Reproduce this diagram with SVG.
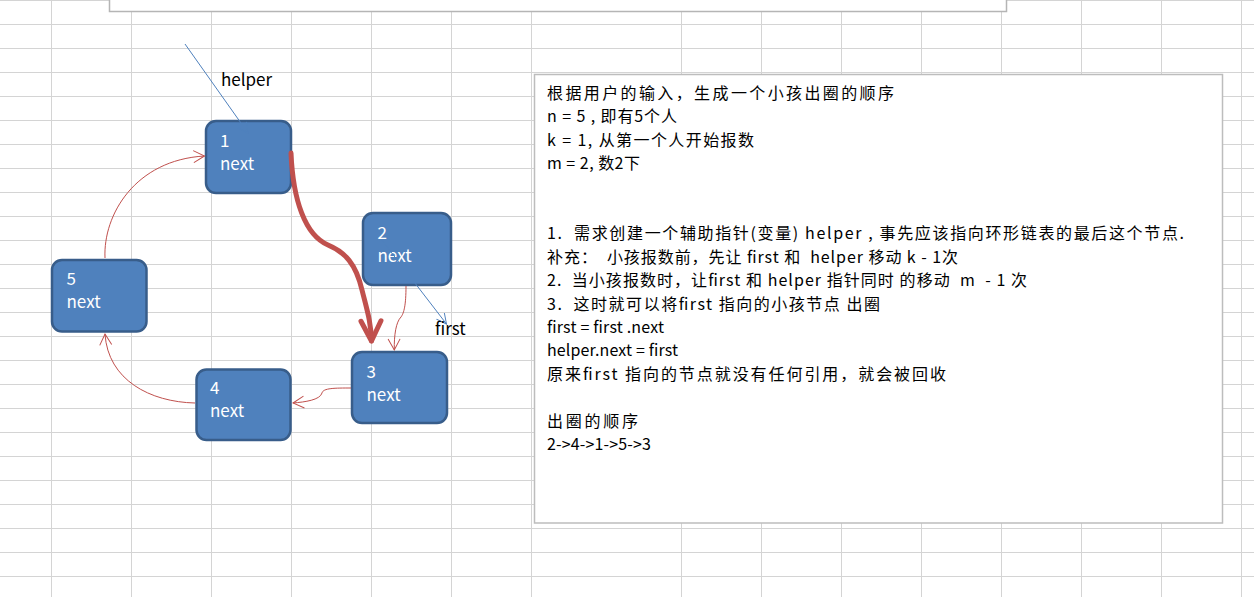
<svg xmlns="http://www.w3.org/2000/svg" width="1254" height="597" viewBox="0 0 1254 597">
  <style>
    .grid line { stroke: #d4d4d4; stroke-width: 1; }
    .node rect { fill: #4f81bd; stroke: #385d8a; stroke-width: 2.5; }
    .node text { fill: #ffffff; font-family: "Noto Sans CJK SC", "Noto Sans", sans-serif; font-size: 17px; }
    .lbl { fill: #000000; font-family: "Noto Sans CJK SC", "Noto Sans", sans-serif; font-size: 17px; }
    .note text { fill: #000000; font-family: "Noto Sans CJK SC", sans-serif; font-size: 16px; white-space: pre; }
    .thin { fill: none; stroke: #c0504d; stroke-width: 1; }
    .ptr { fill: none; stroke: #4f81bd; stroke-width: 1; }
    .thick { fill: none; stroke: #c0504d; stroke-width: 5; stroke-linecap: round; }
  </style>
  <defs>
    <marker id="redHead" markerUnits="userSpaceOnUse" viewBox="0 0 14 14" markerWidth="14" markerHeight="14" refX="12" refY="7" orient="auto" overflow="visible">
      <path d="M1,1 L12,7 L1,13" fill="none" stroke="#c0504d" stroke-width="1"/>
    </marker>
    <marker id="blueHead" markerUnits="userSpaceOnUse" viewBox="0 0 14 14" markerWidth="14" markerHeight="14" refX="12" refY="7" orient="auto" overflow="visible">
      <path d="M2,2 L12,7 L2,12" fill="none" stroke="#4f81bd" stroke-width="1"/>
    </marker>
    <marker id="thickHead" markerUnits="userSpaceOnUse" viewBox="0 0 30 30" markerWidth="30" markerHeight="30" refX="23" refY="15" orient="auto" overflow="visible">
      <path d="M3,5 L23,15 L3,25" fill="none" stroke="#c0504d" stroke-width="5" stroke-linecap="round" stroke-linejoin="round"/>
    </marker>
  </defs>

  <rect x="0" y="0" width="1254" height="597" fill="#ffffff"/>

  <g class="grid">
    <line x1="0" y1="0.5" x2="1254" y2="0.5"/>
    <line x1="0" y1="24.5" x2="1254" y2="24.5"/>
    <line x1="0" y1="48.5" x2="1254" y2="48.5"/>
    <line x1="0" y1="72.5" x2="1254" y2="72.5"/>
    <line x1="0" y1="96.5" x2="1254" y2="96.5"/>
    <line x1="0" y1="120.5" x2="1254" y2="120.5"/>
    <line x1="0" y1="144.5" x2="1254" y2="144.5"/>
    <line x1="0" y1="168.5" x2="1254" y2="168.5"/>
    <line x1="0" y1="192.5" x2="1254" y2="192.5"/>
    <line x1="0" y1="216.5" x2="1254" y2="216.5"/>
    <line x1="0" y1="240.5" x2="1254" y2="240.5"/>
    <line x1="0" y1="264.5" x2="1254" y2="264.5"/>
    <line x1="0" y1="288.5" x2="1254" y2="288.5"/>
    <line x1="0" y1="312.5" x2="1254" y2="312.5"/>
    <line x1="0" y1="336.5" x2="1254" y2="336.5"/>
    <line x1="0" y1="360.5" x2="1254" y2="360.5"/>
    <line x1="0" y1="384.5" x2="1254" y2="384.5"/>
    <line x1="0" y1="408.5" x2="1254" y2="408.5"/>
    <line x1="0" y1="432.5" x2="1254" y2="432.5"/>
    <line x1="0" y1="456.5" x2="1254" y2="456.5"/>
    <line x1="0" y1="480.5" x2="1254" y2="480.5"/>
    <line x1="0" y1="504.5" x2="1254" y2="504.5"/>
    <line x1="0" y1="528.5" x2="1254" y2="528.5"/>
    <line x1="0" y1="552.5" x2="1254" y2="552.5"/>
    <line x1="0" y1="576.5" x2="1254" y2="576.5"/>
    <line x1="51.5" y1="0" x2="51.5" y2="597"/>
    <line x1="131.5" y1="0" x2="131.5" y2="597"/>
    <line x1="211.5" y1="0" x2="211.5" y2="597"/>
    <line x1="291.5" y1="0" x2="291.5" y2="597"/>
    <line x1="371.5" y1="0" x2="371.5" y2="597"/>
    <line x1="451.5" y1="0" x2="451.5" y2="597"/>
    <line x1="531.5" y1="0" x2="531.5" y2="597"/>
    <line x1="681.5" y1="0" x2="681.5" y2="597"/>
    <line x1="761.5" y1="0" x2="761.5" y2="597"/>
    <line x1="841.5" y1="0" x2="841.5" y2="597"/>
    <line x1="921.5" y1="0" x2="921.5" y2="597"/>
    <line x1="1001.5" y1="0" x2="1001.5" y2="597"/>
    <line x1="1081.5" y1="0" x2="1081.5" y2="597"/>
    <line x1="1161.5" y1="0" x2="1161.5" y2="597"/>
    <line x1="1241.5" y1="0" x2="1241.5" y2="597"/>
  </g>

  <rect id="top-box" x="109.5" y="-5" width="897" height="16.5" fill="#ffffff" stroke="#b5b5b5" stroke-width="1.5"/>

  <g id="note" class="note">
    <rect x="534.5" y="74.5" width="688" height="448.5" fill="#ffffff" stroke="#bdbdbd" stroke-width="1.5"/>
    <text x="547" y="99" textLength="347" xml:space="preserve">根据用户的输入，生成一个小孩出圈的顺序</text>
    <text x="547" y="122.4" textLength="130" xml:space="preserve">n = 5 , 即有5个人</text>
    <text x="547" y="145.8" textLength="207" xml:space="preserve">k = 1, 从第一个人开始报数</text>
    <text x="547" y="169.2" textLength="93" xml:space="preserve">m = 2, 数2下</text>
    <text x="547" y="239.4" textLength="637" xml:space="preserve">1.  需求创建一个辅助指针(变量) helper , 事先应该指向环形链表的最后这个节点.</text>
    <text x="547" y="262.8" textLength="411" xml:space="preserve">补充：  小孩报数前，先让 first 和  helper 移动 k - 1次</text>
    <text x="547" y="286.2" textLength="480" xml:space="preserve">2.  当小孩报数时，让first 和 helper 指针同时 的移动  m  - 1 次</text>
    <text x="547" y="309.6" textLength="333" xml:space="preserve">3.  这时就可以将first 指向的小孩节点 出圈</text>
    <text x="547" y="333" textLength="117" xml:space="preserve">first = first .next</text>
    <text x="547" y="356.4" textLength="131" xml:space="preserve">helper.next = first</text>
    <text x="547" y="379.8" textLength="399" xml:space="preserve">原来first 指向的节点就没有任何引用，就会被回收</text>
    <text x="547" y="426.6" textLength="91" xml:space="preserve">出圈的顺序</text>
    <text x="547" y="450" textLength="104" xml:space="preserve">2-&gt;4-&gt;1-&gt;5-&gt;3</text>
  </g>

  <g id="node-1" class="node">
    <rect x="206" y="121" width="85" height="72" rx="10" ry="10"/>
    <text x="220" y="147">1</text>
    <text x="220" y="170">next</text>
  </g>
  <g id="node-2" class="node">
    <rect x="363" y="213" width="88" height="72" rx="10" ry="10"/>
    <text x="377.5" y="239">2</text>
    <text x="377.5" y="262">next</text>
  </g>
  <g id="node-3" class="node">
    <rect x="352" y="352" width="95" height="71" rx="10" ry="10"/>
    <text x="366.5" y="378">3</text>
    <text x="366.5" y="401">next</text>
  </g>
  <g id="node-4" class="node">
    <rect x="196.5" y="369.5" width="94" height="70.5" rx="10" ry="10"/>
    <text x="210" y="394">4</text>
    <text x="210" y="417">next</text>
  </g>
  <g id="node-5" class="node">
    <rect x="52" y="260" width="94.5" height="71.5" rx="10" ry="10"/>
    <text x="66.5" y="285">5</text>
    <text x="66.5" y="308">next</text>
  </g>

  <g id="connectors">
    <path class="ptr" d="M185,44 L248,133" marker-end="url(#blueHead)"/>
    <text class="lbl" x="221" y="86">helper</text>
    <path class="ptr" d="M381,239 L446.5,324" marker-end="url(#blueHead)"/>
    <text class="lbl" x="435" y="335">first</text>
    <path class="thick" d="M291,153 C293,200 305,235 328,245 C345,252 356,264 362,290 C367,310 371,322 371.5,341" marker-end="url(#thickHead)"/>
    <path class="thin" d="M406,286 C406,305 404,313 401,317 C396,322 394,335 394.3,350" marker-end="url(#redHead)"/>
    <path class="thin" d="M351,388 C335,388 323,388 322,393 C320,400 305,402 293,403" marker-end="url(#redHead)"/>
    <path class="thin" d="M195,403 C150,402 108,380 105,334" marker-end="url(#redHead)"/>
    <path class="thin" d="M105,258 C103,215 135,160 204.5,156" marker-end="url(#redHead)"/>
  </g>
</svg>
